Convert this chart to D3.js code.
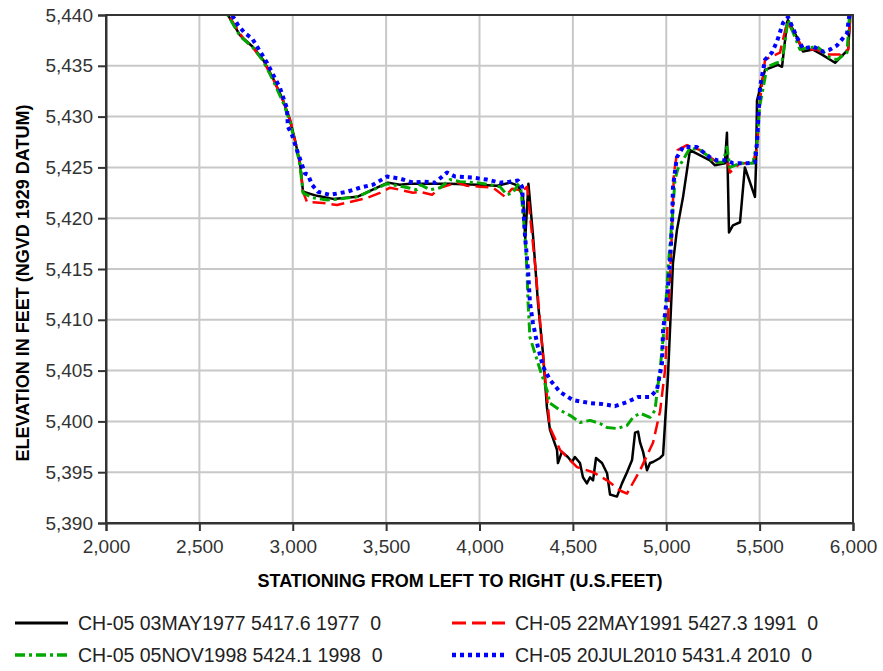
<!DOCTYPE html>
<html>
<head>
<meta charset="utf-8">
<script src="https://cdn.jsdelivr.net/npm/d3@7"></script>
<style>
  body { margin: 0; background: #fff; }
  text { font-family: "Liberation Sans", Arial, sans-serif; }
</style>
</head>
<body>
<div id="graph"></div>
<script>
"use strict"

// stationing (ft) and elevation (ft) per survey
var x1977 = [2640, 2653, 2718, 2787, 2841, 2894, 2948, 2985, 3012, 3039, 3055, 3130, 3216, 3345, 3451, 3510, 3574, 3628, 3735, 3842, 3987, 4094, 4163, 4206, 4233, 4245, 4262, 4287, 4313, 4340, 4361, 4377, 4415, 4420, 4441, 4473, 4495, 4511, 4538, 4554, 4575, 4592, 4608, 4624, 4656, 4683, 4699, 4736, 4763, 4790, 4817, 4833, 4849, 4860, 4876, 4897, 4913, 4929, 4967, 4983, 5009, 5036, 5057, 5090, 5127, 5234, 5261, 5314, 5325, 5336, 5357, 5395, 5421, 5475, 5481, 5486, 5529, 5598, 5620, 5647, 5652, 5700, 5732, 5786, 5834, 5904, 5974, 5984, 5995]
var y1977 = [5441.5, 5440, 5438.0, 5436.85, 5435.6, 5433.8, 5431.6, 5429.7, 5427.7, 5425.4, 5422.6, 5422.2, 5421.9, 5422.1, 5423.0, 5423.5, 5423.3, 5423.4, 5423.4, 5423.4, 5423.3, 5423.2, 5423.5, 5423.2, 5422.1, 5418.0, 5423.4, 5418.2, 5411.7, 5406.7, 5401.4, 5399.2, 5397.2, 5395.9, 5397.0, 5396.5, 5396.0, 5396.5, 5395.9, 5394.5, 5393.9, 5394.5, 5394.2, 5396.4, 5395.9, 5394.9, 5392.8, 5392.6, 5393.9, 5395.0, 5396.2, 5398.9, 5399.0, 5397.9, 5397.0, 5395.2, 5395.9, 5396.0, 5396.4, 5396.7, 5404.4, 5415.6, 5418.8, 5422.1, 5426.7, 5425.7, 5425.2, 5425.4, 5428.4, 5418.6, 5419.3, 5419.6, 5425.0, 5422.1, 5425.4, 5431.6, 5434.6, 5435.1, 5434.9, 5439.3, 5439.5, 5437.8, 5436.4, 5436.6, 5436.1, 5435.3, 5436.6, 5439.5, 5442]

var x1991 = [2640, 2655, 2720, 2744, 2790, 2845, 2900, 2950, 2990, 3015, 3040, 3055, 3076, 3162, 3237, 3307, 3398, 3467, 3521, 3574, 3644, 3682, 3746, 3789, 3880, 3933, 4003, 4073, 4137, 4174, 4206, 4228, 4255, 4300, 4340, 4377, 4431, 4522, 4608, 4683, 4752, 4790, 4860, 4929, 4967, 4993, 5015, 5031, 5041, 5060, 5111, 5181, 5272, 5330, 5341, 5395, 5464, 5486, 5502, 5529, 5609, 5647, 5700, 5732, 5807, 5861, 5930, 5974, 5990]
var y1991 = [5441.5, 5440, 5438.1, 5437.5, 5436.7, 5435.4, 5433.5, 5431.5, 5429.4, 5427.4, 5425.2, 5422.6, 5421.6, 5421.5, 5421.3, 5421.6, 5422.0, 5422.5, 5423.0, 5422.8, 5422.5, 5422.6, 5422.3, 5423.0, 5423.5, 5423.2, 5423.1, 5423.0, 5422.1, 5422.9, 5422.8, 5422.6, 5423.1, 5415.0, 5406.5, 5399.4, 5397.2, 5395.5, 5395.0, 5394.2, 5393.2, 5392.9, 5395.2, 5397.9, 5401.0, 5405.0, 5412.0, 5419.0, 5424.4, 5426.7, 5427.2, 5426.7, 5425.5, 5425.5, 5424.5, 5425.4, 5425.4, 5427.0, 5431.6, 5435.6, 5436.3, 5439.3, 5437.8, 5436.6, 5436.6, 5436.1, 5436.1, 5436.6, 5441]

var x1998 = [2640, 2652, 2718, 2787, 2841, 2894, 2948, 2985, 3012, 3039, 3055, 3108, 3183, 3253, 3345, 3430, 3505, 3591, 3665, 3682, 3735, 3789, 3842, 3896, 3987, 4056, 4110, 4147, 4179, 4206, 4222, 4244, 4254, 4260, 4270, 4297, 4324, 4361, 4377, 4431, 4484, 4538, 4592, 4645, 4683, 4736, 4790, 4822, 4860, 4913, 4940, 4950, 4967, 4993, 5009, 5031, 5047, 5063, 5127, 5181, 5234, 5250, 5304, 5325, 5341, 5395, 5464, 5486, 5500, 5540, 5593, 5620, 5652, 5716, 5807, 5877, 5914, 5968, 5985]
var y1998 = [5441.5, 5440, 5437.9, 5436.8, 5435.5, 5433.6, 5431.4, 5429.5, 5427.5, 5425.2, 5422.5, 5422.0, 5421.8, 5421.9, 5422.1, 5422.8, 5423.4, 5423.1, 5422.8, 5423.3, 5422.8, 5423.0, 5423.8, 5423.6, 5423.5, 5423.3, 5423.1, 5422.3, 5422.5, 5423.3, 5422.8, 5418.2, 5414.9, 5411.7, 5408.3, 5406.7, 5405.1, 5403.1, 5401.8, 5401.1, 5400.6, 5399.9, 5400.1, 5399.8, 5399.4, 5399.3, 5399.6, 5400.4, 5400.8, 5400.4, 5401.1, 5402.8, 5405.1, 5410.0, 5414.9, 5419.8, 5423.8, 5424.9, 5426.9, 5426.7, 5426.0, 5425.5, 5425.5, 5427.0, 5425.0, 5425.4, 5425.4, 5427.5, 5431.0, 5434.9, 5435.3, 5435.4, 5439.5, 5436.6, 5436.9, 5435.8, 5435.6, 5436.3, 5441]

var x2010 = [2660, 2675, 2707, 2744, 2782, 2809, 2862, 2932, 2969, 2974, 2996, 3028, 3066, 3081, 3103, 3135, 3199, 3290, 3360, 3430, 3505, 3574, 3644, 3698, 3762, 3826, 3869, 3960, 4040, 4110, 4163, 4206, 4228, 4233, 4244, 4260, 4270, 4286, 4313, 4340, 4377, 4431, 4500, 4592, 4661, 4725, 4790, 4849, 4913, 4950, 4977, 4983, 5004, 5020, 5031, 5036, 5057, 5090, 5164, 5234, 5272, 5325, 5357, 5432, 5475, 5486, 5495, 5502, 5529, 5566, 5593, 5625, 5652, 5700, 5732, 5786, 5839, 5877, 5914, 5968, 5979, 5985]
var y2010 = [5441.5, 5440, 5439.0, 5438.2, 5437.7, 5436.9, 5435.3, 5432.8, 5430.8, 5429.0, 5428.2, 5426.4, 5424.4, 5424.3, 5423.3, 5422.6, 5422.3, 5422.6, 5423.0, 5423.3, 5424.1, 5423.9, 5423.5, 5423.6, 5423.5, 5424.5, 5424.1, 5424.0, 5423.8, 5423.5, 5423.6, 5423.7, 5423.1, 5421.5, 5418.2, 5414.9, 5411.7, 5409.7, 5407.3, 5405.4, 5404.1, 5402.9, 5402.1, 5401.8, 5401.7, 5401.5, 5401.9, 5402.4, 5402.4, 5403.1, 5405.7, 5409.0, 5412.2, 5415.6, 5419.5, 5423.1, 5426.0, 5427.0, 5427.0, 5426.0, 5425.7, 5425.7, 5425.4, 5425.4, 5425.5, 5427.4, 5430.5, 5432.9, 5435.6, 5436.3, 5437.4, 5439.2, 5439.8, 5437.8, 5436.7, 5436.9, 5436.4, 5436.6, 5437.0, 5438.2, 5439.8, 5442]

var seriesNames = [
    "CH-05 03MAY1977 5417.6 1977  0",
    "CH-05 22MAY1991 5427.3 1991  0",
    "CH-05 05NOV1998 5424.1 1998  0",
    "CH-05 20JUL2010 5431.4 2010  0"
]
var xTicks = [2000, 2500, 3000, 3500, 4000, 4500, 5000, 5500, 6000]
var yTicks = [5390, 5395, 5400, 5405, 5410, 5415, 5420, 5425, 5430, 5435, 5440]

var width = 883, height = 671
var margin = {top: 15, left: 106, right: 30, bottom: 148}
var chartWidth = width - margin.left - margin.right
var chartHeight = height - margin.top - margin.bottom

main()

function main() {
    let svg = d3.select("#graph").append("svg")
        .attr("width", width).attr("height", height)

    let x = d3.scaleLinear().domain([2000, 6000]).range([0, chartWidth])
    let y = d3.scaleLinear().domain([5390, 5440]).range([chartHeight, 0])

    let chart = svg.append("g")
        .attr("transform", "translate(" + [margin.left, margin.top] + ")")

    // grid
    chart.append("g").selectAll("line").data(xTicks).enter().append("line")
        .attr("x1", d => x(d)).attr("x2", d => x(d))
        .attr("y1", 0).attr("y2", chartHeight)
        .attr("stroke", "#c8c8c8").attr("stroke-width", 2)
    chart.append("g").selectAll("line").data(yTicks).enter().append("line")
        .attr("y1", d => y(d)).attr("y2", d => y(d))
        .attr("x1", 0).attr("x2", chartWidth)
        .attr("stroke", "#c8c8c8").attr("stroke-width", 2)

    svg.append("defs").append("clipPath").attr("id", "clip")
        .append("rect").attr("width", chartWidth).attr("height", chartHeight)

    let series = [
        {name: seriesNames[0], xs: x1977, ys: y1977, color: "#000000", dash: null, w: 2.5},
        {name: seriesNames[1], xs: x1991, ys: y1991, color: "#ff0000", dash: "13,6", w: 2.5},
        {name: seriesNames[2], xs: x1998, ys: y1998, color: "#00a800", dash: "10,4,3,4", w: 3},
        {name: seriesNames[3], xs: x2010, ys: y2010, color: "#0000ff", dash: "4,4", w: 4}
    ]

    let line = d3.line().x(d => x(d[0])).y(d => y(d[1]))

    let plot = chart.append("g").attr("clip-path", "url(#clip)")
    series.forEach(function(s) {
        plot.append("path")
            .datum(s.xs.map((v, i) => [v, s.ys[i]]))
            .attr("d", line)
            .attr("fill", "none")
            .attr("stroke", s.color)
            .attr("stroke-width", s.w)
            .attr("stroke-dasharray", s.dash)
            .attr("stroke-linejoin", "round")
    })

    // frame
    chart.append("rect").attr("width", chartWidth).attr("height", chartHeight)
        .attr("fill", "none").attr("stroke", "#333").attr("stroke-width", 2)

    let xAxis = chart.append("g")
        .attr("transform", "translate(0," + chartHeight + ")")
        .call(d3.axisBottom(x).tickValues(xTicks).tickFormat(d3.format(",")).tickSize(8).tickPadding(9))
    let yAxis = chart.append("g")
        .call(d3.axisLeft(y).tickValues(yTicks).tickFormat(d3.format(",")).tickSize(8).tickPadding(5))

    ;[xAxis, yAxis].forEach(function(a) {
        a.select(".domain").attr("stroke", "#333").attr("stroke-width", 2)
        a.selectAll(".tick line").attr("stroke", "#333").attr("stroke-width", 2)
        a.selectAll(".tick text").attr("fill", "#333").style("font-size", "19px")
            .style("font-family", "'Liberation Sans', Arial, sans-serif")
    })

    svg.append("text")
        .attr("x", 460).attr("y", 587)
        .attr("text-anchor", "middle")
        .style("font-size", "18px").style("font-weight", "bold")
        .text("STATIONING FROM LEFT TO RIGHT (U.S.FEET)")

    svg.append("text")
        .attr("transform", "translate(29,283) rotate(-90)")
        .attr("text-anchor", "middle")
        .style("font-size", "18px").style("font-weight", "bold")
        .text("ELEVATION IN FEET (NGVD 1929 DATUM)")

    // legend
    let legend = svg.append("g")
    let pos = [[15, 623], [452, 623], [15, 655], [452, 655]]
    series.forEach(function(s, i) {
        let g = legend.append("g").attr("transform", "translate(" + pos[i] + ")")
        g.append("line").attr("x1", 0).attr("x2", 53)
            .attr("stroke", s.color).attr("stroke-width", s.w + 0.5)
            .attr("stroke-dasharray", i == 1 ? "14,6" : s.dash)
        g.append("text").attr("x", 63).attr("dy", "0.35em")
            .style("font-size", "19.5px").style("white-space", "pre")
            .attr("fill", "#222")
            .text(s.name)
    })
}
</script>
</body>
</html>
